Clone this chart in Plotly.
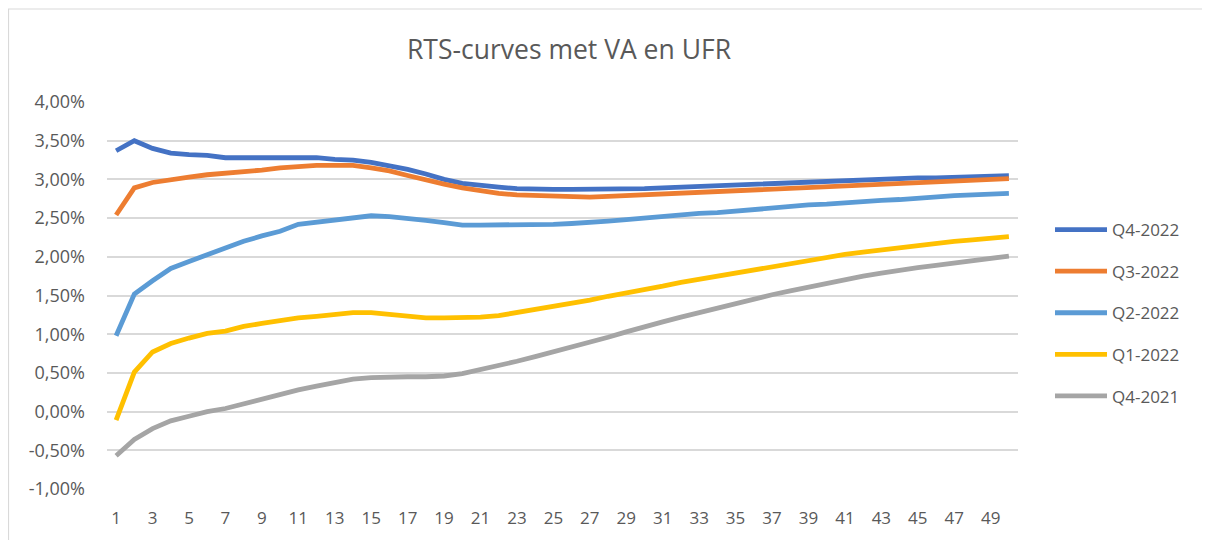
import plotly.graph_objects as go

# The page body has an 8px margin, so the figure is drawn 8px in from the
# top-left corner of the window; sizes are chosen to compensate.
OFF = 8
W, H = 1210 - OFF, 540 - OFF
L, T = 107 - OFF, 102 - OFF
PW, PH = 911, 387
R, B = W - L - PW, H - T - PH

maturities = list(range(1, 51))
x_tick_labels = [str(v) for v in range(1, 50, 2)]

q4_2022 = [3.37, 3.50, 3.40, 3.34, 3.32, 3.31, 3.28, 3.28, 3.28, 3.28,
           3.29, 3.28, 3.26, 3.25, 3.22, 3.18, 3.13, 3.07, 3.00, 2.95,
           2.92, 2.90, 2.88, 2.87, 2.87, 2.87, 2.87, 2.87, 2.87, 2.88,
           2.89, 2.90, 2.91, 2.92, 2.93, 2.94, 2.95, 2.96, 2.97, 2.98,
           2.98, 2.99, 3.00, 3.01, 3.02, 3.02, 3.03, 3.04, 3.05, 3.05]
q3_2022 = [2.54, 2.89, 2.96, 3.00, 3.03, 3.06, 3.08, 3.09, 3.12, 3.15,
           3.17, 3.18, 3.18, 3.18, 3.15, 3.11, 3.05, 2.99, 2.94, 2.89,
           2.85, 2.82, 2.80, 2.79, 2.78, 2.77, 2.77, 2.78, 2.79, 2.80,
           2.81, 2.82, 2.83, 2.84, 2.85, 2.86, 2.87, 2.88, 2.90, 2.91,
           2.92, 2.93, 2.94, 2.95, 2.96, 2.97, 2.98, 2.99, 3.00, 3.01]
q2_2022 = [0.98, 1.52, 1.69, 1.85, 1.94, 2.03, 2.12, 2.20, 2.27, 2.33,
           2.42, 2.45, 2.48, 2.51, 2.53, 2.52, 2.50, 2.47, 2.44, 2.41,
           2.41, 2.41, 2.41, 2.41, 2.42, 2.43, 2.44, 2.46, 2.48, 2.50,
           2.53, 2.54, 2.56, 2.57, 2.59, 2.62, 2.64, 2.65, 2.67, 2.68,
           2.70, 2.71, 2.73, 2.74, 2.76, 2.77, 2.79, 2.80, 2.81, 2.82]
q1_2022 = [-0.11, 0.51, 0.77, 0.88, 0.95, 1.01, 1.04, 1.10, 1.14, 1.18,
           1.21, 1.23, 1.26, 1.28, 1.28, 1.26, 1.23, 1.21, 1.21, 1.21,
           1.22, 1.24, 1.28, 1.32, 1.36, 1.39, 1.44, 1.49, 1.53, 1.58,
           1.62, 1.67, 1.71, 1.75, 1.80, 1.84, 1.88, 1.92, 1.96, 2.00,
           2.03, 2.06, 2.09, 2.12, 2.14, 2.17, 2.20, 2.22, 2.24, 2.26]
q4_2021 = [-0.57, -0.36, -0.22, -0.12, -0.06, 0.00, 0.04, 0.10, 0.16, 0.23,
           0.28, 0.33, 0.38, 0.42, 0.44, 0.45, 0.45, 0.45, 0.46, 0.49,
           0.54, 0.59, 0.65, 0.71, 0.77, 0.84, 0.90, 0.96, 1.03, 1.10,
           1.16, 1.22, 1.28, 1.34, 1.40, 1.45, 1.51, 1.56, 1.61, 1.66,
           1.71, 1.75, 1.79, 1.83, 1.86, 1.89, 1.92, 1.95, 1.98, 2.01]

series_names = ["Q4-2022", "Q3-2022", "Q2-2022", "Q1-2022", "Q4-2021"]
series_values = [q4_2022, q3_2022, q2_2022, q1_2022, q4_2021]
series_colors = ["#4472C4", "#ED7D31", "#5B9BD5", "#FFC000", "#A5A5A5"]

y_tick_vals = [-1.0, -0.5, 0.0, 0.5, 1.0, 1.5, 2.0, 2.5, 3.0, 3.5, 4.0]
y_tick_labels = ["-1,00%", "-0,50%", "0,00%", "0,50%", "1,00%", "1,50%",
                 "2,00%", "2,50%", "3,00%", "3,50%", "4,00%"]

FONT = "Open Sans"
TXT = "#595959"

fig = go.Figure()
for name, vals, col in zip(series_names, series_values, series_colors):
    fig.add_trace(go.Scatter(
        x=maturities, y=vals, name=name, mode="lines",
        line=dict(color=col, width=4.8), legendgroup=name,
    ))


def px_x(p):
    # p: window pixel
    return (p - OFF - L) / PW


def px_y(p):
    return (H - B - (p - OFF)) / PH


fig.update_layout(
    width=W, height=H,
    margin=dict(l=L, r=R, t=T, b=B, pad=0),
    paper_bgcolor="white", plot_bgcolor="white",
    font=dict(family=FONT, color=TXT, size=16),
    title=dict(text="RTS-curves met VA en UFR", x=(569 - OFF) / W, xanchor="center",
               y=1 - (50 - OFF) / H, yanchor="middle",
               font=dict(family=FONT, size=26.5, color=TXT)),
    showlegend=True,
    legend=dict(
        x=px_x(1050), xanchor="left", y=px_y(212), yanchor="top",
        font=dict(family=FONT, size=17, color=TXT),
        tracegroupgap=16.5, itemwidth=52, bgcolor="rgba(0,0,0,0)",
    ),
    xaxis=dict(
        range=[0.5, 50.5], tickmode="array",
        tickvals=[int(t) for t in x_tick_labels], ticktext=x_tick_labels,
        showgrid=False, zeroline=False, showline=False, ticks="",
        ticklabelstandoff=17,
        tickfont=dict(family=FONT, size=17, color=TXT),
    ),
    yaxis=dict(
        range=[-1.00001, 4.00001], tickmode="array",
        tickvals=y_tick_vals, ticktext=y_tick_labels,
        showgrid=True, gridcolor="#D9D9D9", gridwidth=1.5,
        zeroline=False, showline=False, ticks="",
        ticklabelstandoff=21,
        tickfont=dict(family=FONT, size=18, color=TXT),
    ),
    shapes=[dict(type="rect", xref="paper", yref="paper",
                 x0=px_x(8.5), x1=px_x(1230), y0=px_y(560), y1=px_y(9),
                 line=dict(color="#D9D9D9", width=1.2), fillcolor="rgba(0,0,0,0)",
                 layer="below")],
)

fig.write_html("out.html")
